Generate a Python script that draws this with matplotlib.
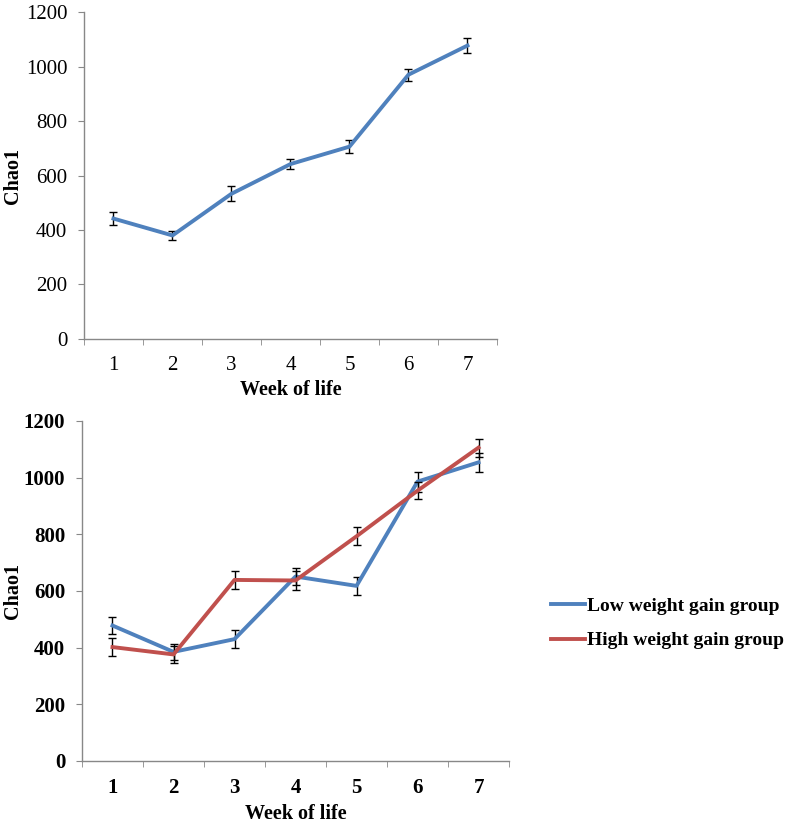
import matplotlib
matplotlib.use("Agg")
import matplotlib.pyplot as plt
import numpy as np
from matplotlib.lines import Line2D

weeks = [1, 2, 3, 4, 5, 6, 7]
week_labels = ["1", "2", "3", "4", "5", "6", "7"]

overall_mean = [442, 380, 533, 642, 706, 970, 1077]
overall_err = [23, 15, 28, 17, 25, 22, 28]

low_mean = [478, 385, 430, 651, 618, 986, 1054]
low_err = [31, 28, 31, 30, 32, 35, 33]
high_mean = [402, 376, 639, 637, 793, 954, 1106]
high_err = [31, 30, 32, 32, 32, 30, 32]

series_names = ["Low weight gain group", "High weight gain group"]
blue = "#4F81BD"
red = "#C0504D"
serif = "Liberation Serif"

fig = plt.figure(figsize=(7.93, 8.24), dpi=100)

def style_axes(ax, bold_ticks, xlabelpad, ylabel_x):
    ax.set_xlim(0.5, 7.5)
    ax.set_ylim(0, 1200)
    ax.set_yticks(np.arange(0, 1201, 200))
    ax.set_xticks(weeks)
    ax.set_xticklabels(week_labels)
    ax.set_xticks(np.arange(0.5, 7.6, 1.0), minor=True)
    ax.tick_params(axis="x", which="major", length=0, pad=12)
    ax.tick_params(axis="x", which="minor", length=4, color="#888888", direction="out")
    ax.tick_params(axis="y", length=4, color="#888888", direction="out", pad=8)
    for s in ["top", "right"]:
        ax.spines[s].set_visible(False)
    for s in ["left", "bottom"]:
        ax.spines[s].set_color("#888888")
        ax.spines[s].set_linewidth(1.0)
    w = "bold" if bold_ticks else "normal"
    for lab in ax.get_xticklabels() + ax.get_yticklabels():
        lab.set_fontfamily(serif)
        lab.set_fontsize(15)
        lab.set_fontweight(w)
    ax.set_xlabel("Week of life", fontfamily=serif, fontsize=14.5, fontweight="bold", labelpad=xlabelpad)
    ax.set_ylabel("Chao1", fontfamily=serif, fontsize=14.5, fontweight="bold",
                  va="center", ha="center")
    ax.yaxis.set_label_coords(ylabel_x, 0.5)

# Top panel
ax1 = fig.add_axes([0.1059, 0.5886, 0.5208, 0.3968])
ax1.errorbar(weeks, overall_mean, yerr=overall_err, color=blue, lw=2.8,
             ecolor="black", elinewidth=1.0, capsize=3, capthick=1.0, zorder=3)
style_axes(ax1, False, 4, -0.172)

# Bottom panel
ax2 = fig.add_axes([0.1034, 0.0765, 0.5385, 0.4126])
ax2.errorbar(weeks, low_mean, yerr=low_err, color=blue, lw=2.8,
             ecolor="black", elinewidth=1.0, capsize=3, capthick=1.0, zorder=3,
             label=series_names[0])
ax2.errorbar(weeks, high_mean, yerr=high_err, color=red, lw=2.8,
             ecolor="black", elinewidth=1.0, capsize=3, capthick=1.0, zorder=4,
             label=series_names[1])
style_axes(ax2, True, 4.5, -0.162)

handles = [Line2D([0], [0], color=blue, lw=2.8), Line2D([0], [0], color=red, lw=2.8)]
fig.legend(handles, series_names, loc="center left", bbox_to_anchor=(0.673, 0.2433),
           frameon=False, handlelength=1.75, handletextpad=0.1, labelspacing=0.85,
           prop={"family": serif, "size": 14, "weight": "bold"})

fig.savefig("out.png", dpi=100)
